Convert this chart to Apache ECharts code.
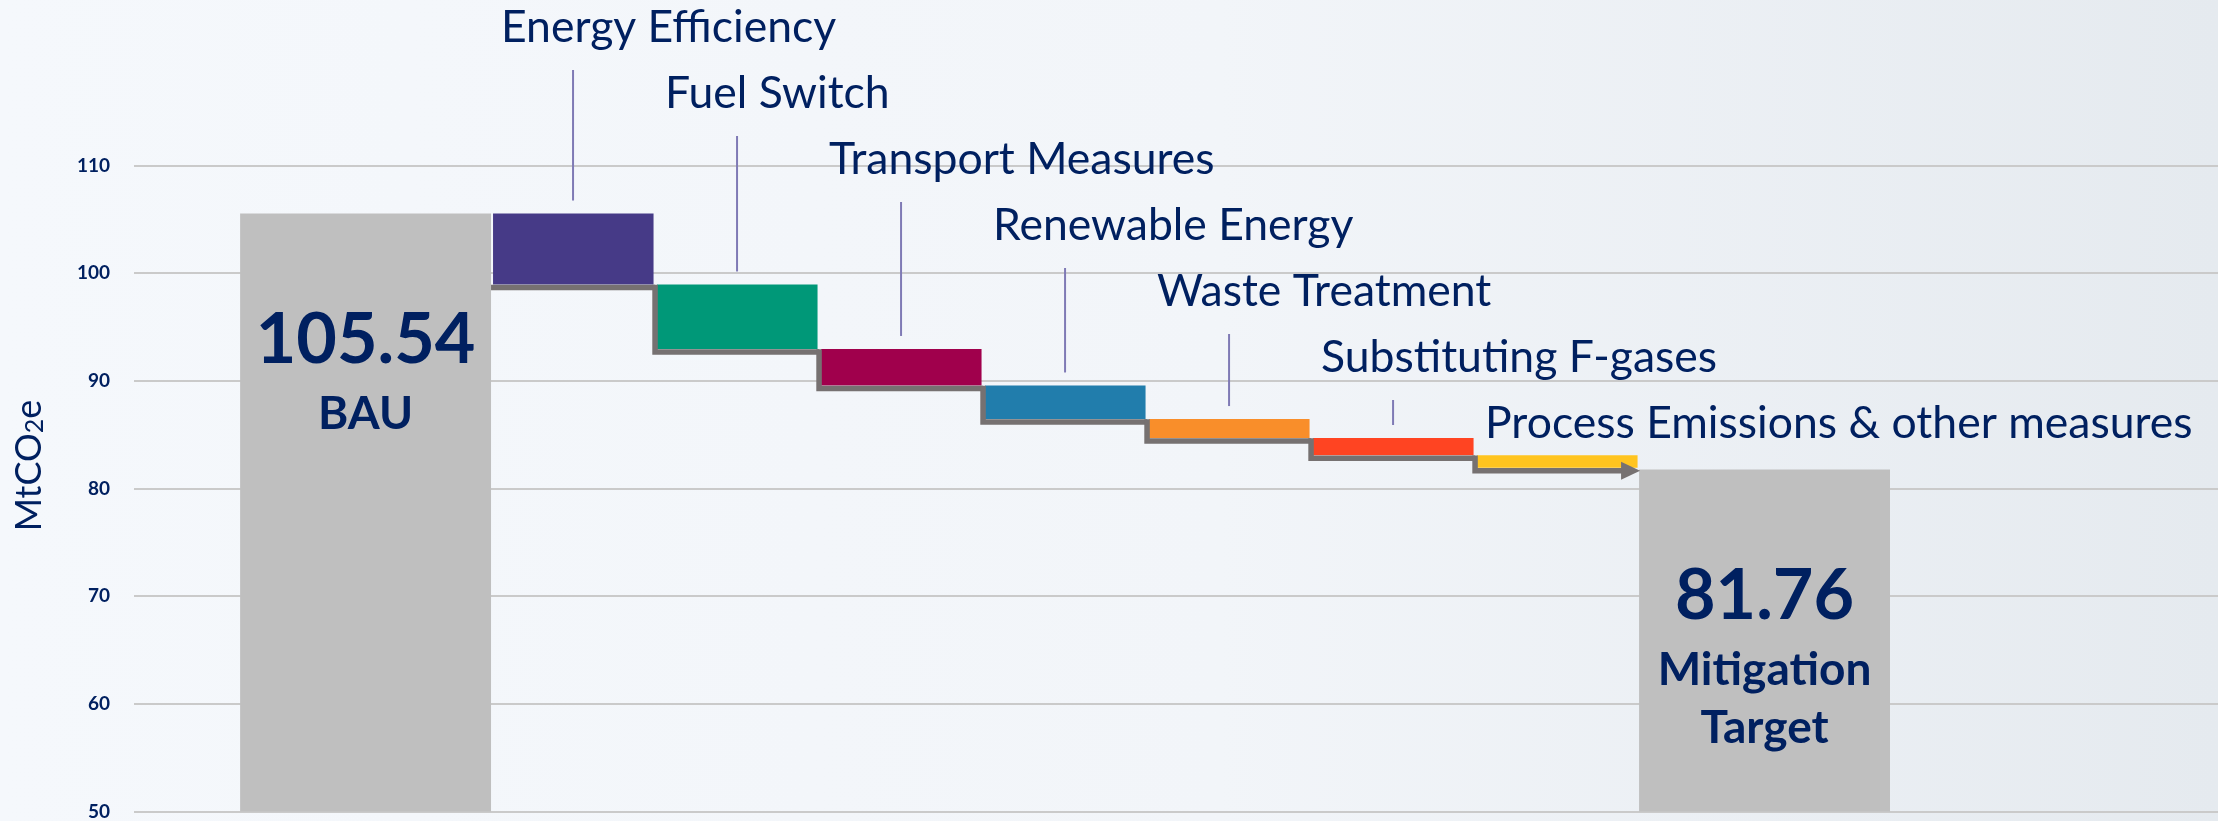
<!DOCTYPE html>
<html>
<head>
<meta charset="utf-8">
<script src="https://cdn.jsdelivr.net/npm/echarts@6/dist/echarts.min.js"></script>
<style>
  html, body { margin: 0; padding: 0; }
  #chart { width: 2218px; height: 821px; }
</style>
</head>
<body>
<div id="chart"></div>
<script>
// Categories along the x axis
const categories = [
  "BAU",
  "Energy Efficiency",
  "Fuel Switch",
  "Transport Measures",
  "Renewable Energy",
  "Waste Treatment",
  "Substituting F-gases",
  "Process Emissions & other measures",
  "Mitigation Target",
];

// Totals (MtCO2e)
const bauValue = 105.54;
const targetValue = 81.76;

// Reduction of each measure (MtCO2e)
const reductions = [6.59, 5.99, 3.39, 3.12, 1.76, 1.6, 1.17];

// Y axis ticks
const yMin = 50;
const yMax = 110;
const yStep = 10;

const measureColors = ["#463a87", "#009878", "#a0004c", "#217dac", "#f98e2a", "#ff4422", "#ffc41f"];
const navy = "#002060";
const FONT = 'Lato, "Open Sans", sans-serif';

// Waterfall rows: [x index, low, high]
const barData = [[0, yMin, bauValue]];
let level = bauValue;
reductions.forEach((r, k) => {
  barData.push([k + 1, level - r, level]);
  level -= r;
});
barData.push([categories.length - 1, yMin, targetValue]);
const stepData = barData.slice(1, -1);

const lastIdx = categories.length - 1;

function renderBar(params, api) {
  const i = api.value(0);
  const low = api.value(1);
  const high = api.value(2);
  const band = api.size([1, 0])[0];
  const top = api.coord([i, high]);
  const bot = api.coord([i, low]);
  let x0 = top[0] - band / 2;
  let x1 = top[0] + band / 2;
  const children = [];

  if (i === 0 || i === lastIdx) {
    // totals: wider grey bars with big label inside
    if (i === 0) x0 -= band * 0.53;
    else x1 += band * 0.53;
    const cx = (x0 + x1) / 2;
    children.push({
      type: "rect",
      shape: { x: x0, y: top[1], width: x1 - x0, height: bot[1] - top[1] },
      style: { fill: "#bfbfbf" },
    });
    children.push({
      type: "text",
      style: {
        text: high.toFixed(2),
        x: cx, y: top[1] + 127,
        align: "center", verticalAlign: "middle",
        font: "bold 70px " + FONT, fill: navy,
      },
    });
    children.push({
      type: "text",
      style: {
        text: categories[i].split(" ").join("\n"),
        x: cx, y: top[1] + 172,
        align: "center", verticalAlign: "top",
        font: "bold 46px " + FONT, lineHeight: 58, fill: navy,
      },
    });
  } else {
    x0 += 2;
    x1 -= 1.5;
    children.push({
      type: "rect",
      shape: { x: x0, y: top[1], width: x1 - x0, height: bot[1] - top[1] },
      style: { fill: measureColors[i - 1] },
    });
    // label text on staggered rows
    const rowY = 28 + 66 * (i - 1);
    children.push({
      type: "text",
      style: {
        text: categories[i],
        x: top[0] - band / 2 + 10, y: rowY,
        align: "left", verticalAlign: "middle",
        font: "44.5px " + FONT, fill: navy,
      },
    });
    // leader line
    const yA = rowY + 42;
    const yB = top[1] - 13;
    if (yB - yA > 10) {
      children.push({
        type: "line",
        shape: { x1: top[0], y1: yA, x2: top[0], y2: yB },
        style: { stroke: "#7f7ab5", lineWidth: 2 },
      });
    }
  }
  return { type: "group", children };
}

function renderStep(params, api) {
  const i = api.value(0);
  const low = api.value(1);
  const high = api.value(2);
  const band = api.size([1, 0])[0];
  const pLow = api.coord([i, low]);
  const pHigh = api.coord([i, high]);
  const off = 3;
  const w = 5.5;
  const xL = pLow[0] - band / 2;
  const xR = pLow[0] + band / 2;
  const y = pLow[1] + off;
  const isFirst = params.dataIndex === 0;
  const isLast = params.dataIndex === stepData.length - 1;

  const pts = [];
  if (!isFirst) pts.push([xL, pHigh[1] + off - w / 2]);
  pts.push([xL, y]);
  pts.push([isLast ? xR - 16 : xR, y]);
  const children = [{
    type: "polyline",
    shape: { points: pts },
    style: { stroke: "#767171", lineWidth: w, fill: null, lineJoin: "miter" },
  }];
  if (isLast) {
    children.push({
      type: "polygon",
      shape: { points: [[xR - 18, y - 9], [xR + 1, y], [xR - 18, y + 9]] },
      style: { fill: "#767171" },
    });
  }
  return { type: "group", children };
}

const chart = echarts.init(document.getElementById("chart"), null, { renderer: "canvas" });

chart.setOption({
  animation: false,
  backgroundColor: {
    type: "linear", x: 0, y: 0, x2: 1, y2: 0,
    colorStops: [
      { offset: 0, color: "#f5f8fc" },
      { offset: 0.55, color: "#f2f5f9" },
      { offset: 1, color: "#e5eaef" },
    ],
  },
  grid: { left: 134, right: 0, top: 165.5, bottom: 5 },
  xAxis: {
    type: "value",
    min: -1.677,
    max: 11.03,
    show: false,
  },
  yAxis: {
    type: "value",
    min: yMin,
    max: yMax,
    interval: yStep,
    name: "MtCO{s|2}e",
    nameLocation: "middle",
    nameRotate: 90,
    nameGap: 87,
    nameTextStyle: {
      color: navy,
      fontSize: 36,
      fontFamily: FONT,
      padding: [0, 0, 0, 46],
      rich: { s: { fontSize: 25, color: navy, fontFamily: FONT, verticalAlign: "bottom" } },
    },
    axisLine: { show: false },
    axisTick: { show: false },
    axisLabel: { color: navy, fontWeight: "bold", fontSize: 19, fontFamily: FONT, margin: 24 },
    splitLine: { lineStyle: { color: "#cacaca", width: 2 } },
  },
  series: [
    {
      type: "custom",
      renderItem: renderBar,
      data: barData,
      z: 2,
    },
    {
      type: "custom",
      renderItem: renderStep,
      data: stepData,
      z: 3,
    },
  ],
});
</script>
</body>
</html>
